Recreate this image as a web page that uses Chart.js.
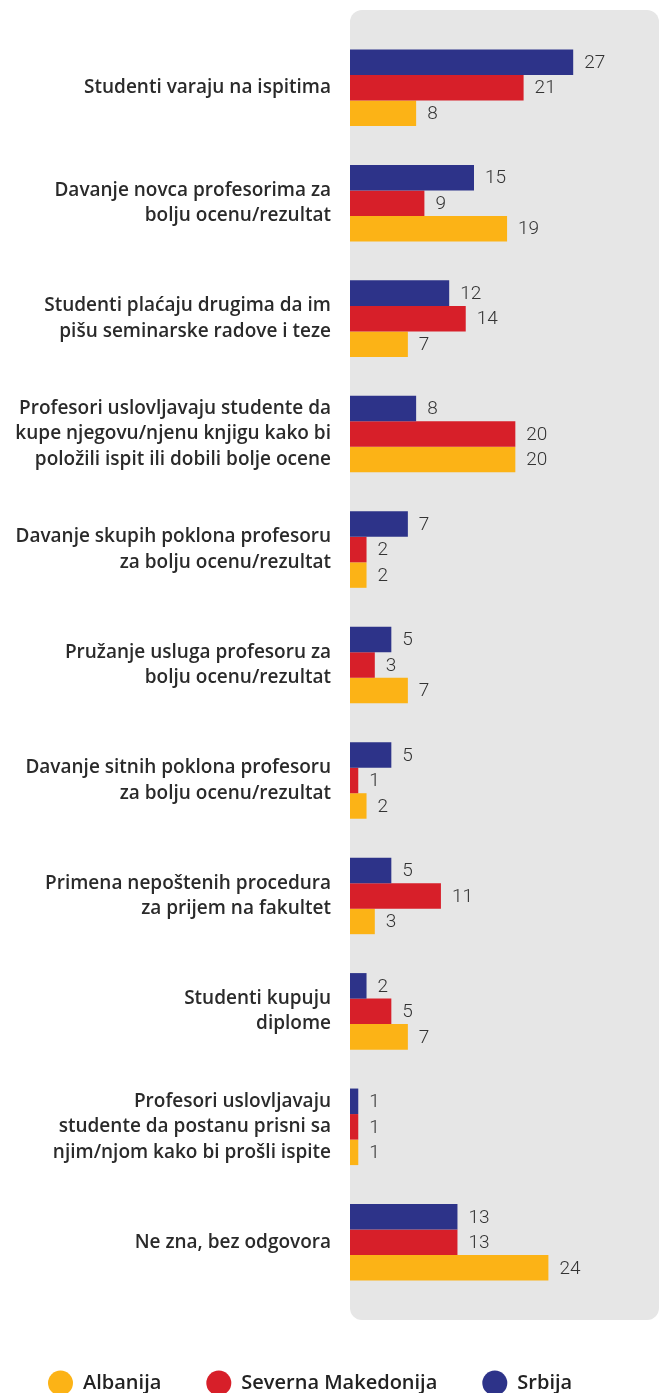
<!DOCTYPE html>
<html>
<head>
<meta charset="utf-8">
<script src="https://cdn.jsdelivr.net/npm/chart.js@4"></script>
<style>
    html, body { margin: 0; padding: 0; background: #fff; }
    #wrap { width: 660px; height: 1393px; position: relative; }
</style>
</head>
<body>
<div id="wrap"><canvas id="corruptionChart"></canvas></div>
<script>
const categories = [
    'Studenti varaju na ispitima',
    ['Davanje novca profesorima za', 'bolju ocenu/rezultat'],
    ['Studenti plaćaju drugima da im', 'pišu seminarske radove i teze'],
    ['Profesori uslovljavaju studente da', 'kupe njegovu/njenu knjigu kako bi', 'položili ispit ili dobili bolje ocene'],
    ['Davanje skupih poklona profesoru', 'za bolju ocenu/rezultat'],
    ['Pružanje usluga profesoru za', 'bolju ocenu/rezultat'],
    ['Davanje sitnih poklona profesoru', 'za bolju ocenu/rezultat'],
    ['Primena nepoštenih procedura', 'za prijem na fakultet'],
    ['Studenti kupuju', 'diplome'],
    ['Profesori uslovljavaju', 'studente da postanu prisni sa', 'njim/njom kako bi prošli ispite'],
    'Ne zna, bez odgovora'
];
const srbija = [27, 15, 12, 8, 7, 5, 5, 5, 2, 1, 13];
const makedonija = [21, 9, 14, 20, 2, 3, 1, 11, 5, 1, 13];
const albanija = [8, 19, 7, 20, 2, 7, 2, 3, 7, 1, 24];

const labelFont = "'Open Sans', sans-serif";

// grey rounded panel behind the bars
const panelPlugin = {
    id: 'panel',
    beforeDraw(chart) {
        const ctx = chart.ctx;
        const area = chart.chartArea;
        ctx.save();
        ctx.fillStyle = '#e6e6e6';
        ctx.beginPath();
        ctx.roundRect(area.left, 10, chart.width - area.left - 1, 1310, 12);
        ctx.fill();
        ctx.restore();
    },
    afterLayout(chart) {
        // nudge legend to match the reference
        chart.legend.top += 10;
        chart.legend.bottom += 10;
        chart.legend.left += 3;
    }
};

// value labels at the end of each bar
const valueLabels = {
    id: 'valueLabels',
    afterDatasetsDraw(chart) {
        const ctx = chart.ctx;
        ctx.save();
        ctx.font = "300 19px Roboto, sans-serif";
        ctx.fillStyle = '#333';
        ctx.textAlign = 'left';
        ctx.textBaseline = 'middle';
        chart.data.datasets.forEach((ds, i) => {
            const meta = chart.getDatasetMeta(i);
            meta.data.forEach((bar, j) => {
                ctx.fillText(ds.data[j], bar.x + 11, bar.y + 1);
            });
        });
        ctx.restore();
    }
};

const ctx = document.getElementById('corruptionChart').getContext('2d');
const chart = new Chart(ctx, {
    type: 'bar',
    data: {
        labels: categories,
        datasets: [{
            label: 'Srbija',
            data: srbija,
            backgroundColor: '#2d3389'
        }, {
            label: 'Severna Makedonija',
            data: makedonija,
            backgroundColor: '#d71f29'
        }, {
            label: 'Albanija',
            data: albanija,
            backgroundColor: '#fcb316'
        }]
    },
    options: {
        indexAxis: 'y',
        responsive: true,
        maintainAspectRatio: false,
        animation: false,
        datasets: {
            bar: {
                categoryPercentage: 0.663,
                barPercentage: 1.0,
                borderWidth: 0
            }
        },
        layout: {
            padding: { top: 30, right: 0, left: 0, bottom: 0 }
        },
        plugins: {
            legend: {
                position: 'bottom',
                align: 'start',
                reverse: true,
                labels: {
                    usePointStyle: true,
                    pointStyle: 'circle',
                    boxHeight: 17.7,
                    boxWidth: 25,
                    pointStyleWidth: 25,
                    padding: 45,
                    color: '#222',
                    font: { family: labelFont, size: 20, weight: '600' }
                }
            },
            tooltip: { enabled: false }
        },
        scales: {
            x: {
                min: 0,
                max: 37.5,
                grid: { display: false },
                border: { display: false },
                ticks: { display: false },
                afterFit: function(scale) {
                    scale.height = 18;
                }
            },
            y: {
                grid: { display: false },
                border: { display: false },
                ticks: {
                    color: '#2a2a2a',
                    padding: 11,
                    font: { family: labelFont, size: 19, weight: '600', lineHeight: 1.34 }
                },
                afterFit: function(scale) {
                    scale.width = 350;
                }
            }
        }
    },
    plugins: [panelPlugin, valueLabels]
});
</script>
</body>
</html>
